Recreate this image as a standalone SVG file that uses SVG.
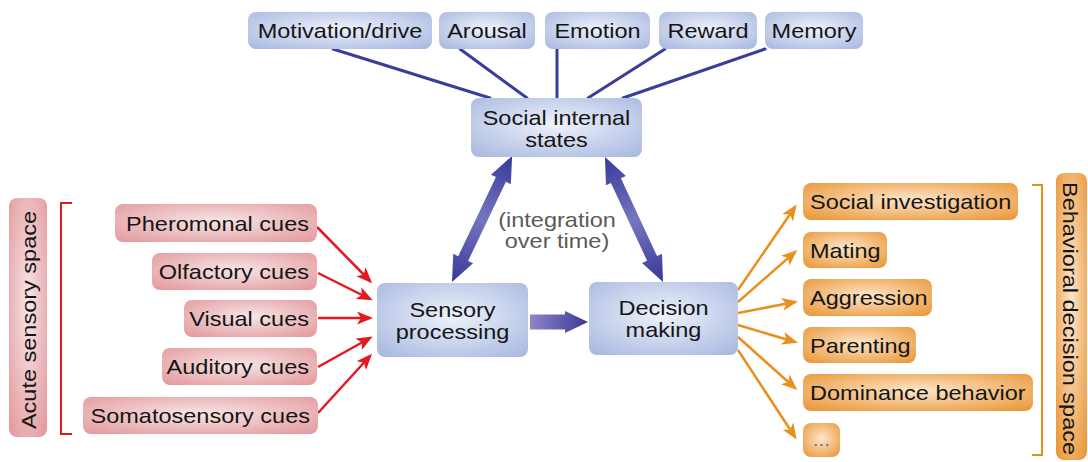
<svg xmlns="http://www.w3.org/2000/svg" width="1088" height="462" viewBox="0 0 1088 462">
<style>
text{font-family:"Liberation Sans",Arial,Helvetica,sans-serif;font-size:21px;fill:#151515}
.c{text-anchor:middle}
.e{text-anchor:end}
.g{fill:#5a5a5a}
.bb{fill:url(#gBlue)}
.rb{fill:url(#gRed)}
.ob{fill:url(#gOr)}
.bl{stroke:#3b3e98;stroke-width:3;fill:none;stroke-linecap:round}
.rl{stroke:#e3191f;stroke-width:2.5;fill:none;marker-end:url(#mRed)}
.ol{stroke:#e8901e;stroke-width:2.5;fill:none;marker-end:url(#mOr)}
</style>
<defs>
<radialGradient id="gBlue" cx="50%" cy="45%" r="75%">
<stop offset="0" stop-color="#eef2fb"/><stop offset="1" stop-color="#a5b5de"/>
</radialGradient>
<radialGradient id="gRed" cx="50%" cy="45%" r="75%">
<stop offset="0" stop-color="#f6e6e6"/><stop offset="1" stop-color="#e2959a"/>
</radialGradient>
<radialGradient id="gOr" cx="50%" cy="45%" r="75%">
<stop offset="0" stop-color="#fde6cc"/><stop offset="1" stop-color="#e8922e"/>
</radialGradient>
<linearGradient id="gDbl" x1="0" y1="0" x2="1" y2="0">
<stop offset="0" stop-color="#38389a"/><stop offset="0.5" stop-color="#7476c0"/><stop offset="1" stop-color="#38389a"/>
</linearGradient>
<linearGradient id="gH" x1="0" y1="0" x2="1" y2="0">
<stop offset="0" stop-color="#8f86c8"/><stop offset="1" stop-color="#3a3894"/>
</linearGradient>
<marker id="mRed" markerUnits="userSpaceOnUse" markerWidth="16" markerHeight="13" viewBox="0 0 16 13" refX="13" refY="6.5" orient="auto">
<path d="M0,0 L16,6.5 L0,13 L4,6.5 Z" fill="#e3191f"/>
</marker>
<marker id="mOr" markerUnits="userSpaceOnUse" markerWidth="16" markerHeight="13" viewBox="0 0 16 13" refX="13" refY="6.5" orient="auto">
<path d="M0,0 L16,6.5 L0,13 L4,6.5 Z" fill="#e8901e"/>
</marker>
</defs>

<g id="connectors">
<line class="bl" x1="333" y1="49" x2="490" y2="98"/>
<line class="bl" x1="460" y1="49" x2="527" y2="98"/>
<line class="bl" x1="557" y1="49" x2="557" y2="98"/>
<line class="bl" x1="665" y1="49" x2="588" y2="98"/>
<line class="bl" x1="765" y1="49" x2="623" y2="98"/>
<polygon fill="url(#gDbl)" transform="translate(452,282) rotate(-64.5)" points="0,0 26,-11 26,-5.5 113.6,-5.5 113.6,-11 139.6,0 113.6,11 113.6,5.5 26,5.5 26,11"/>
<polygon fill="url(#gDbl)" transform="translate(663,282) rotate(-114.9)" points="0,0 26,-11 26,-5.5 111.8,-5.5 111.8,-11 137.8,0 111.8,11 111.8,5.5 26,5.5 26,11"/>
<polygon fill="url(#gH)" points="530,314.5 565,314.5 565,311 588,322 565,333 565,329.5 530,329.5"/>
<line class="rl" x1="317" y1="227" x2="370" y2="281"/>
<line class="rl" x1="318" y1="273" x2="370" y2="299"/>
<line class="rl" x1="318" y1="318" x2="370" y2="318"/>
<line class="rl" x1="318" y1="367" x2="370" y2="338"/>
<line class="rl" x1="318" y1="413" x2="370" y2="356"/>
<line class="ol" x1="738" y1="290" x2="795" y2="207"/>
<line class="ol" x1="738" y1="302" x2="795" y2="252"/>
<line class="ol" x1="738" y1="313" x2="795" y2="302"/>
<line class="ol" x1="738" y1="325" x2="795" y2="342"/>
<line class="ol" x1="738" y1="337" x2="795" y2="388"/>
<line class="ol" x1="738" y1="350" x2="795" y2="437"/>
<path d="M72,203 H61 V434 H72" fill="none" stroke="#e3191f" stroke-width="2"/>
<path d="M1032,185 H1042 V455 H1032" fill="none" stroke="#e8901e" stroke-width="2"/>
</g>

<g id="n-motivation"><rect class="bb" x="248" y="12" width="184" height="37" rx="8"/><text class="c" transform="matrix(1.12 0 0 1 340 38)">Motivation/drive</text></g>
<g id="n-arousal"><rect class="bb" x="439" y="12" width="96" height="37" rx="8"/><text class="c" transform="matrix(1.12 0 0 1 487 38)">Arousal</text></g>
<g id="n-emotion"><rect class="bb" x="545" y="12" width="105" height="37" rx="8"/><text class="c" transform="matrix(1.12 0 0 1 597.5 38)">Emotion</text></g>
<g id="n-reward"><rect class="bb" x="659" y="12" width="98" height="37" rx="8"/><text class="c" transform="matrix(1.12 0 0 1 708 38)">Reward</text></g>
<g id="n-memory"><rect class="bb" x="765" y="12" width="98" height="37" rx="8"/><text class="c" transform="matrix(1.12 0 0 1 814 38)">Memory</text></g>

<g id="n-social"><rect class="bb" x="471" y="98" width="171" height="59" rx="8"/>
<text class="c" transform="matrix(1.12 0 0 1 556.5 125)">Social internal</text>
<text class="c" transform="matrix(1.12 0 0 1 556.5 147)">states</text></g>

<g id="n-sensory"><rect class="bb" x="377" y="283" width="151" height="74" rx="8"/>
<text class="c" transform="matrix(1.12 0 0 1 452.5 317)">Sensory</text>
<text class="c" transform="matrix(1.12 0 0 1 452.5 339)">processing</text></g>

<g id="n-decision"><rect class="bb" x="589" y="282" width="149" height="73" rx="8"/>
<text class="c" transform="matrix(1.12 0 0 1 663.5 315)">Decision</text>
<text class="c" transform="matrix(1.12 0 0 1 663.5 337)">making</text></g>

<g id="label-integration">
<text class="c g" transform="matrix(1.12 0 0 1 557 227)">(integration</text>
<text class="c g" transform="matrix(1.12 0 0 1 557 248)">over time)</text></g>

<g id="n-acute"><rect class="rb" x="9" y="198" width="38" height="239" rx="8"/>
<text class="c" transform="translate(35.5,320) rotate(-90) scale(1.12,1)">Acute sensory space</text></g>

<g id="n-pheromonal"><rect class="rb" x="115" y="204" width="202" height="38" rx="8"/><text class="e" transform="matrix(1.12 0 0 1 309 230.5)">Pheromonal cues</text></g>
<g id="n-olfactory"><rect class="rb" x="152" y="253" width="165" height="37" rx="8"/><text class="e" transform="matrix(1.12 0 0 1 309 279)">Olfactory cues</text></g>
<g id="n-visual"><rect class="rb" x="184" y="300" width="133" height="37" rx="8"/><text class="e" transform="matrix(1.12 0 0 1 309 326)">Visual cues</text></g>
<g id="n-auditory"><rect class="rb" x="162" y="348" width="155" height="37" rx="8"/><text class="e" transform="matrix(1.12 0 0 1 309 374)">Auditory cues</text></g>
<g id="n-somatosensory"><rect class="rb" x="83" y="397" width="235" height="37" rx="8"/><text class="e" transform="matrix(1.12 0 0 1 310 423)">Somatosensory cues</text></g>

<g id="n-socialinv"><rect class="ob" x="803" y="183" width="215" height="37" rx="8"/><text transform="matrix(1.12 0 0 1 810 209)">Social investigation</text></g>
<g id="n-mating"><rect class="ob" x="803" y="232" width="84" height="36" rx="8"/><text transform="matrix(1.12 0 0 1 810 257.5)">Mating</text></g>
<g id="n-aggression"><rect class="ob" x="803" y="279" width="129" height="37" rx="8"/><text transform="matrix(1.12 0 0 1 810 305)">Aggression</text></g>
<g id="n-parenting"><rect class="ob" x="803" y="327" width="113" height="36" rx="8"/><text transform="matrix(1.12 0 0 1 810 352.5)">Parenting</text></g>
<g id="n-dominance"><rect class="ob" x="803" y="374" width="230" height="37" rx="8"/><text transform="matrix(1.12 0 0 1 810 400)">Dominance behavior</text></g>
<g id="n-more"><rect class="ob" x="803" y="423" width="37" height="34" rx="8"/><text class="c g" style="font-size:16px" transform="matrix(1.12 0 0 1 821.5 446)">…</text></g>

<g id="n-behavioral"><rect class="ob" x="1056" y="173" width="31" height="287" rx="8"/>
<text class="c" transform="translate(1063,318.5) rotate(90) scale(1.12,1)">Behavioral decision space</text></g>
</svg>
